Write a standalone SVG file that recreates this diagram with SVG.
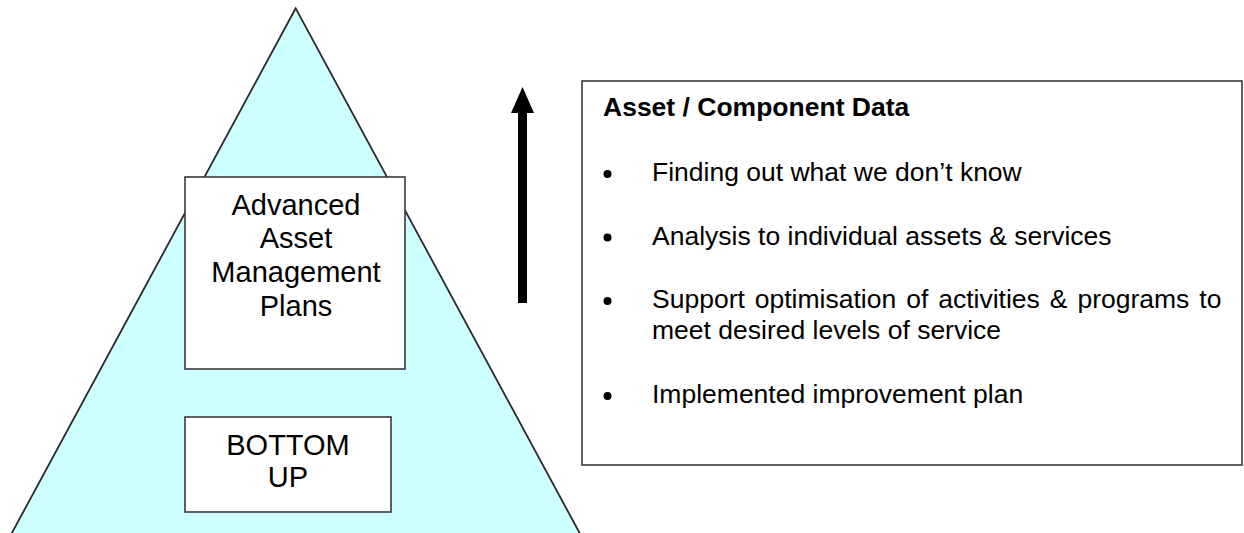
<svg xmlns="http://www.w3.org/2000/svg" width="1244" height="533" viewBox="0 0 1244 533">
  <style>
    .box { fill: #ffffff; stroke: #3a3a3a; stroke-width: 1.6; }
    .ptext { font-family: "Liberation Sans", Arial, sans-serif; font-size: 29px; fill: #000; text-anchor: middle; }
    .btext { font-family: "Liberation Sans", Arial, sans-serif; font-size: 26.5px; fill: #000; }
    .title { font-family: "Liberation Sans", Arial, sans-serif; font-size: 26.5px; font-weight: bold; fill: #000; }
    .dot { fill: #000; }
  </style>
  <rect x="0" y="0" width="1244" height="533" fill="#ffffff"/>
  <g id="pyramid">
    <polygon points="295.7,8.3 7,542 584.5,542" fill="#ccffff" stroke="#2a2a2a" stroke-width="1.8" stroke-linejoin="miter"/>
  </g>
  <g id="node-advanced">
    <rect class="box" x="185" y="177" width="220" height="192"/>
    <text class="ptext" x="296" y="215">Advanced</text>
    <text class="ptext" x="296" y="248">Asset</text>
    <text class="ptext" x="296" y="282">Management</text>
    <text class="ptext" x="296" y="316">Plans</text>
  </g>
  <g id="node-bottomup">
    <rect class="box" x="185" y="417" width="206" height="95"/>
    <text class="ptext" x="288" y="455">BOTTOM</text>
    <text class="ptext" x="288" y="487">UP</text>
  </g>
  <g id="connectors">
    <rect x="518" y="111" width="9" height="192" fill="#000"/>
    <polygon points="522.5,87 511,113 534,113" fill="#000"/>
  </g>
  <g id="node-data">
    <rect class="box" x="582" y="81" width="660" height="384"/>
    <text class="title" x="603" y="116">Asset / Component Data</text>
    <circle class="dot" cx="607.5" cy="174" r="4"/>
    <text class="btext" x="652" y="181">Finding out what we don’t know</text>
    <circle class="dot" cx="607.5" cy="237.5" r="4"/>
    <text class="btext" x="652" y="244.5">Analysis to individual assets &amp; services</text>
    <circle class="dot" cx="607.5" cy="301" r="4"/>
    <text class="btext" x="652" y="308" word-spacing="2.6">Support optimisation of activities &amp; programs to</text>
    <text class="btext" x="652" y="339">meet desired levels of service</text>
    <circle class="dot" cx="607.5" cy="396" r="4"/>
    <text class="btext" x="652" y="403">Implemented improvement plan</text>
  </g>
</svg>
